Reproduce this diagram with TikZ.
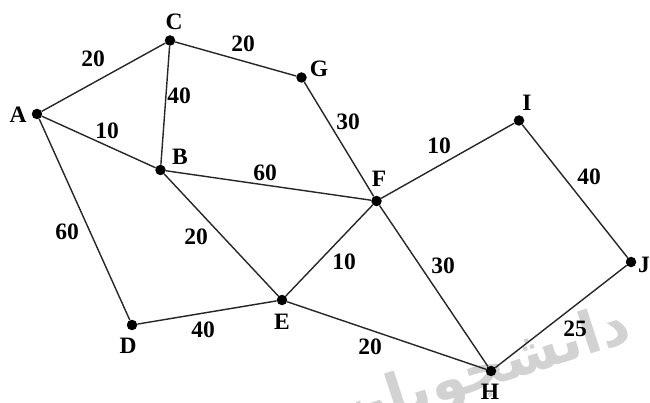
\documentclass[tikz,border=0pt]{standalone}
\usepackage{fontspec}
\setmainfont{Liberation Serif}
\newfontfamily\wmfont[Script=Arabic]{DejaVu Sans}
\TeXXeTstate=1
\begin{document}
\begin{tikzpicture}[x=1pt,y=-1pt,
  dot/.style={circle,fill=black,inner sep=0pt,minimum size=10.5pt},
  lbl/.style={font=\fontsize{23.5}{25}\selectfont\rmfamily\bfseries,inner sep=0pt,text=black},
  edge/.style={line width=1.4pt,draw=black!85},
  wm/.style={font=\fontsize{58}{62}\selectfont\wmfont\bfseries,text=gray!35,inner sep=0pt}]
\useasboundingbox (0,0) rectangle (650,403);
\begin{scope}
\clip (0,0) rectangle (650,403);
\node[wm,anchor=base east,rotate=18] (wmk) at (634,340) {\beginR دانشجویان ریاضی\endR};
\end{scope}
% vertices
\node[dot] (A) at (37,114) {};
\node[dot] (C) at (170,40.5) {};
\node[dot] (G) at (301.5,77.5) {};
\node[dot] (B) at (160.5,170) {};
\node[dot] (I) at (519,120.5) {};
\node[dot] (F) at (376.5,201) {};
\node[dot] (J) at (631,262) {};
\node[dot] (E) at (282,300) {};
\node[dot] (D) at (132,325) {};
\node[dot] (H) at (491,371) {};
% vertex names
\node[lbl] (lA) at (18,115) {A};
\node[lbl] (lC) at (174,22) {C};
\node[lbl] (lG) at (319,69) {G};
\node[lbl] (lB) at (180,157) {B};
\node[lbl] (lI) at (527,103) {I};
\node[lbl] (lF) at (379,179) {F};
\node[lbl,anchor=west] (lJ) at (638,265) {J};
\node[lbl] (lE) at (282,322) {E};
\node[lbl] (lD) at (128,346) {D};
\node[lbl] (lH) at (490,392) {H};
% edges
\draw[edge] (A) -- (C);
\draw[edge] (A) -- (B);
\draw[edge] (A) -- (D);
\draw[edge] (C) -- (B);
\draw[edge] (C) -- (G);
\draw[edge] (G) -- (F);
\draw[edge] (B) -- (F);
\draw[edge] (B) -- (E);
\draw[edge] (D) -- (E);
\draw[edge] (E) -- (F);
\draw[edge] (E) -- (H);
\draw[edge] (F) -- (I);
\draw[edge] (F) -- (H);
\draw[edge] (I) -- (J);
\draw[edge] (J) -- (H);
% weights
\node[lbl] (wAC) at (93,59) {20};
\node[lbl] (wCB) at (179,96) {40};
\node[lbl] (wAB) at (107,131) {10};
\node[lbl] (wCG) at (243,44) {20};
\node[lbl] (wGF) at (348,122) {30};
\node[lbl] (wBF) at (265,173) {60};
\node[lbl] (wFI) at (439,146) {10};
\node[lbl] (wIJ) at (589,177) {40};
\node[lbl] (wAD) at (67,232) {60};
\node[lbl] (wBE) at (196,237) {20};
\node[lbl] (wEF) at (344,262) {10};
\node[lbl] (wFH) at (443,266) {30};
\node[lbl] (wDE) at (203,330) {40};
\node[lbl] (wEH) at (370,347) {20};
\node[lbl] (wJH) at (575,329) {25};
\end{tikzpicture}
\end{document}
